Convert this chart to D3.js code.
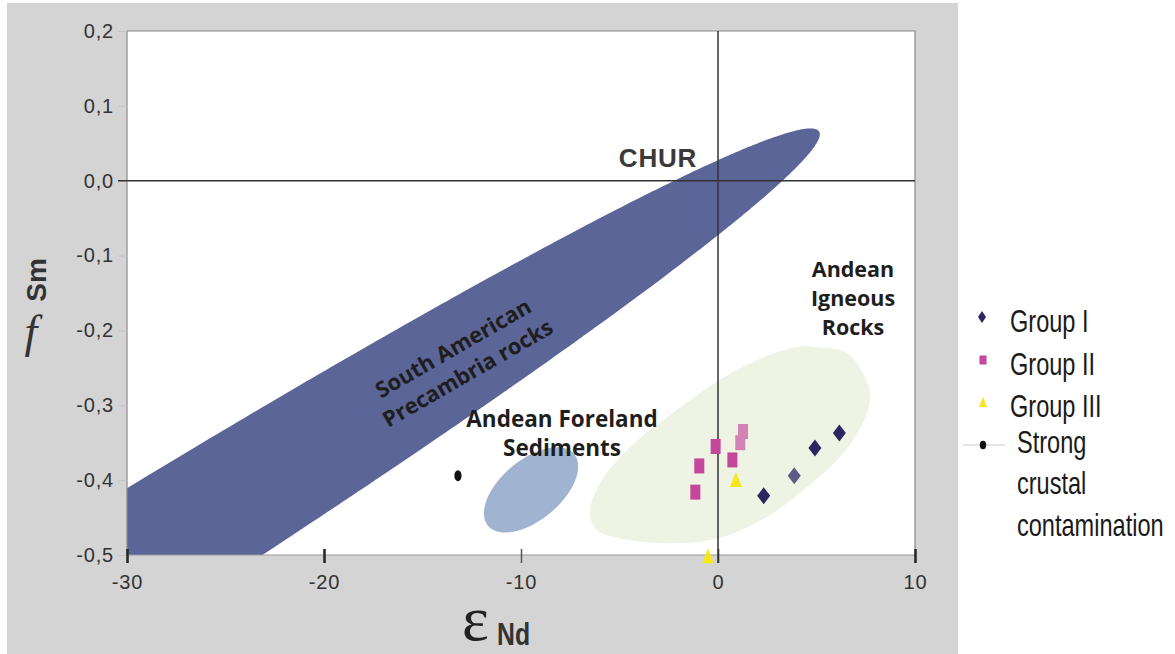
<!DOCTYPE html>
<html>
<head>
<meta charset="utf-8">
<script src="https://cdn.jsdelivr.net/npm/d3@7"></script>
<style>
  body { margin: 0; background: #fff; }
  svg { display: block; }
</style>
</head>
<body>
<svg id="chart" width="1175" height="654"></svg>
<script>
// Sample values: [εNd, fSm]
const groupI      = [[2.32, -0.421], [4.92, -0.357], [6.16, -0.337]];
const groupIPale  = [[3.87, -0.394]];
const groupII     = [[-0.12, -0.355], [-0.95, -0.381], [-1.15, -0.416], [0.73, -0.373]];
const groupIIPale = [[1.13, -0.350], [1.27, -0.335]];
const groupIII    = [[0.91, -0.399], [-0.51, -0.501]];
const crustal     = [[-13.2, -0.394]];

const xTicks = [-30, -20, -10, 0, 10];
const yTicks = [0.2, 0.1, 0.0, -0.1, -0.2, -0.3, -0.4, -0.5];

// Precambrian field: ellipse centre and two conjugate semi-axes in [εNd, fSm]
const precambrianCentre = [-37.16, -0.631];
const precambrianAxes = [[42.29, 0.6968], [1.788, -0.0752]];
// Foreland field: ellipse centre and two conjugate semi-axes in [εNd, fSm]
const forelandCentre = [-9.49, -0.413];
const forelandAxes = [[2.18, 0.048], [0.98, -0.0307]];
// Igneous field outline in [εNd, fSm]
const igneousField = [
  [4.82, -0.222], [6.55, -0.230], [7.36, -0.257], [7.72, -0.289], [7.36, -0.324],
  [6.19, -0.369], [4.52, -0.409], [2.49, -0.449], [0.25, -0.476], [-1.93, -0.484],
  [-4.47, -0.480], [-6.14, -0.467], [-6.5, -0.444], [-5.99, -0.404], [-4.47, -0.356],
  [-2.28, -0.310], [0.10, -0.266], [2.28, -0.236], [4.01, -0.222]
];

const svg = d3.select("#chart");
const H = 654;
const plot = { left: 127, right: 915, top: 31, bottom: 555 };

const x = d3.scaleLinear().domain([-30, 10]).range([plot.left, plot.right]);
const y = d3.scaleLinear().domain([-0.5, 0.2]).range([plot.bottom, plot.top]);

// grey backdrop and white plotting area
svg.append("rect").attr("x", 7).attr("y", 3).attr("width", 951).attr("height", H - 3).attr("fill", "#d4d4d4");
svg.append("rect").attr("x", plot.left).attr("y", plot.top)
  .attr("width", plot.right - plot.left).attr("height", plot.bottom - plot.top).attr("fill", "#fff");

svg.append("clipPath").attr("id", "clip").append("rect")
  .attr("x", plot.left).attr("y", plot.top)
  .attr("width", plot.right - plot.left).attr("height", plot.bottom - plot.top);

const fields = svg.append("g").attr("clip-path", "url(#clip)");
const smooth = d3.line().x(d => x(d[0])).y(d => y(d[1])).curve(d3.curveCatmullRomClosed.alpha(0.5));
const straight = d3.line().x(d => x(d[0])).y(d => y(d[1])).curve(d3.curveLinearClosed);

const ellipsePoints = (c, ax) => d3.range(0, 360, 0.5).map(a => {
  const t = a * Math.PI / 180;
  return [c[0] + ax[0][0] * Math.cos(t) + ax[1][0] * Math.sin(t),
          c[1] + ax[0][1] * Math.cos(t) + ax[1][1] * Math.sin(t)];
});

fields.append("path").datum(igneousField).attr("d", smooth).attr("fill", "#eef3e4");
fields.append("path").datum(ellipsePoints(forelandCentre, forelandAxes)).attr("d", straight).attr("fill", "#a0b3d0");
fields.append("path").datum(ellipsePoints(precambrianCentre, precambrianAxes)).attr("d", straight).attr("fill", "#5b6597");

// frame
svg.append("path")
  .attr("d", `M${plot.left},${plot.bottom}V${plot.top}H${plot.right}V${plot.bottom}`)
  .attr("fill", "none").attr("stroke", "#8a8a8a").attr("stroke-width", 1.2);
svg.append("line").attr("x1", plot.left).attr("x2", plot.right)
  .attr("y1", plot.bottom).attr("y2", plot.bottom).attr("stroke", "#9a9a9a").attr("stroke-width", 1.2);

const fmt = d => d3.format(".1f")(d).replace("\u2212", "-").replace(".", ",");
const tickFont = "Liberation Sans, Arial, sans-serif";

// y axis
const yAxis = svg.append("g").attr("transform", `translate(${plot.left},0)`)
  .call(d3.axisLeft(y).tickValues(yTicks).tickFormat(fmt).tickSize(9).tickPadding(4));
yAxis.select(".domain").remove();
yAxis.selectAll(".tick line").attr("stroke", "#c4c4c4");
yAxis.selectAll(".tick text").attr("font-family", tickFont)
  .attr("font-size", 20).attr("letter-spacing", 0.8).attr("fill", "#333");

// x axis
const xAxis = svg.append("g").attr("transform", `translate(0,${plot.bottom})`)
  .call(d3.axisBottom(x).tickValues(xTicks).tickSize(8).tickPadding(12));
xAxis.select(".domain").remove();
xAxis.selectAll(".tick line").attr("y1", -6)
  .attr("stroke", d => d === -10 ? "#555" : "#2a2a2a")
  .attr("stroke-width", d => (d === -10 || d === 0) ? 1.5 : 2.6);
xAxis.selectAll(".tick text").attr("font-family", tickFont)
  .attr("font-size", 20).attr("letter-spacing", 0.8).attr("fill", "#333").text(d => String(d));

// CHUR reference lines
svg.append("line").attr("x1", plot.left - 9).attr("x2", plot.right)
  .attr("y1", y(0)).attr("y2", y(0)).attr("stroke", "#333").attr("stroke-width", 1.5);
svg.append("line").attr("x1", x(0)).attr("x2", x(0))
  .attr("y1", plot.top).attr("y2", plot.bottom + 8).attr("stroke", "#333").attr("stroke-width", 1.5);

// field labels
const sans = "Open Sans, Noto Sans, sans-serif";
svg.append("text").attr("x", 658).attr("y", 167).attr("text-anchor", "middle")
  .attr("font-family", tickFont).attr("font-weight", 700).attr("letter-spacing", 0.8)
  .attr("font-size", 26).attr("fill", "#3a3a3a").text("CHUR");

const pre = svg.append("text").attr("transform", "translate(460,360) rotate(-30)")
  .attr("text-anchor", "middle").attr("font-family", sans).attr("font-weight", 700)
  .attr("font-size", 22).attr("fill", "#1e1e1e");
pre.append("tspan").attr("x", 0).attr("y", -6).text("South American");
pre.append("tspan").attr("x", 0).attr("y", 23).text("Precambria rocks");

const fore = svg.append("text").attr("text-anchor", "middle").attr("font-family", sans)
  .attr("font-weight", 700).attr("font-size", 22.5).attr("fill", "#1e1e1e");
fore.append("tspan").attr("x", 562).attr("y", 427).text("Andean Foreland");
fore.append("tspan").attr("x", 562).attr("y", 456).text("Sediments");

const ign = svg.append("text").attr("text-anchor", "middle").attr("font-family", sans)
  .attr("font-weight", 700).attr("font-size", 21.5).attr("fill", "#1e1e1e");
ign.append("tspan").attr("x", 853).attr("y", 277).text("Andean");
ign.append("tspan").attr("x", 853).attr("y", 306).text("Igneous");
ign.append("tspan").attr("x", 853).attr("y", 335).text("Rocks");

// markers
const marks = svg.append("g");
const diamond = (w, h) => `M0,${-h / 2}L${w / 2},0L0,${h / 2}L${-w / 2},0Z`;
const triangle = (w, h) => `M0,${-h / 2}L${w / 2},${h / 2}L${-w / 2},${h / 2}Z`;

marks.selectAll(".tri").data(groupIII).join("path")
  .attr("transform", d => `translate(${x(d[0])},${y(d[1])})`)
  .attr("d", triangle(12, 15)).attr("fill", "#f4e81c");
marks.selectAll(".sq").data(groupII).join("rect")
  .attr("x", d => x(d[0]) - 5).attr("y", d => y(d[1]) - 7.5)
  .attr("width", 10).attr("height", 15).attr("fill", "#c4479b");
marks.selectAll(".sqp").data(groupIIPale).join("rect")
  .attr("x", d => x(d[0]) - 5).attr("y", d => y(d[1]) - 7.5)
  .attr("width", 10).attr("height", 15).attr("fill", "#d283b6");
marks.selectAll(".dia").data(groupI).join("path")
  .attr("transform", d => `translate(${x(d[0])},${y(d[1])})`)
  .attr("d", diamond(13, 17)).attr("fill", "#2e2561");
marks.selectAll(".diap").data(groupIPale).join("path")
  .attr("transform", d => `translate(${x(d[0])},${y(d[1])})`)
  .attr("d", diamond(13, 17)).attr("fill", "#5d5a88");
marks.selectAll(".dot").data(crustal).join("ellipse")
  .attr("cx", d => x(d[0])).attr("cy", d => y(d[1])).attr("rx", 3.6).attr("ry", 5.5).attr("fill", "#111");

// axis titles
svg.append("text").attr("x", 462).attr("y", 640).attr("font-family", "Liberation Serif, Times New Roman, serif")
  .attr("font-size", 64).attr("fill", "#222").text("\u03b5");
svg.append("text").attr("transform", "translate(497,645) scale(0.8,1)")
  .attr("font-family", tickFont).attr("font-weight", 700)
  .attr("font-size", 31).attr("fill", "#333").text("Nd");

svg.append("text").attr("transform", "translate(46,280) rotate(-90)").attr("text-anchor", "middle")
  .attr("font-family", tickFont).attr("font-weight", 700)
  .attr("font-size", 28).attr("fill", "#333").text("Sm");
svg.append("text").attr("x", 31).attr("y", 347).attr("text-anchor", "middle")
  .attr("font-family", "Liberation Serif, Times New Roman, serif").attr("font-style", "italic")
  .attr("font-size", 46).attr("fill", "#333").text("f");

// legend
const lg = svg.append("g");
lg.append("path").attr("transform", "translate(982,317)").attr("d", diamond(8, 12)).attr("fill", "#2e2561");
lg.append("rect").attr("x", 979.5).attr("y", 355.5).attr("width", 7).attr("height", 9).attr("fill", "#c4479b");
lg.append("path").attr("transform", "translate(983,402)").attr("d", triangle(8, 10)).attr("fill", "#f4e81c");
lg.append("line").attr("x1", 963).attr("x2", 1005).attr("y1", 445).attr("y2", 445).attr("stroke", "#c8c8c8");
lg.append("ellipse").attr("cx", 983).attr("cy", 445).attr("rx", 3.2).attr("ry", 4.2).attr("fill", "#111");

const legendLines = [
  ["Group I", 1010, 332], ["Group II", 1010, 375], ["Group III", 1010, 417],
  ["Strong", 1017, 453], ["crustal", 1017, 494], ["contamination", 1017, 536]
];
lg.selectAll(".lt").data(legendLines).join("text")
  .attr("transform", d => `translate(${d[1]},${d[2]}) scale(0.76,1)`)
  .attr("font-family", tickFont).attr("font-size", 31).attr("fill", "#1a1a1a")
  .text(d => d[0]);
</script>
</body>
</html>
